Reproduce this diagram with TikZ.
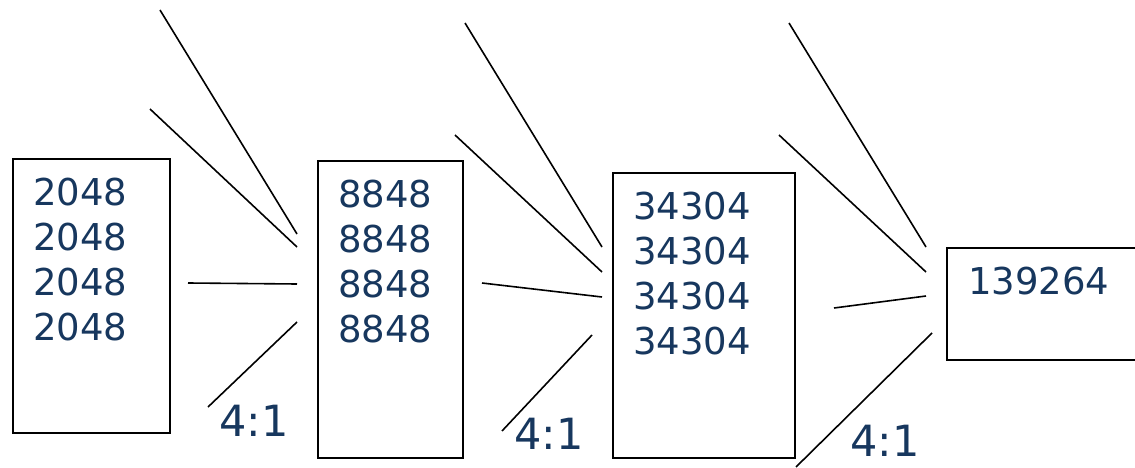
\documentclass[tikz,border=0pt]{standalone}
\usepackage{fontspec}
\setmainfont{DejaVu Sans}
\definecolor{navy}{HTML}{17375E}
\begin{document}
\begin{tikzpicture}[x=1pt,y=-1pt,
  box/.style={draw=black,line width=2pt,fill=white,inner sep=0pt,anchor=north west},
  nums/.style={text=navy,font=\fontsize{37}{45}\selectfont,align=left,anchor=north west,inner sep=0pt},
  ratio/.style={text=navy,font=\fontsize{43}{50}\selectfont,anchor=north west,inner sep=0pt},
  wire/.style={draw=black,line width=1.6pt}]
\useasboundingbox[fill=white] (0,0) rectangle (1135,468);
% boxes
\node[box,minimum width=157pt,minimum height=274pt] (b1) at (12,158) {};
\node[box,minimum width=145pt,minimum height=297pt] (b2) at (317,160) {};
\node[box,minimum width=182pt,minimum height=285pt] (b3) at (612,172) {};
\node[box,minimum width=190pt,minimum height=112pt] (b4) at (946,247) {};
% texts
\node[nums] (t1) at (33,178) {2048\\2048\\2048\\2048};
\node[nums] (t2) at (338,180) {8848\\8848\\8848\\8848};
\node[nums] (t3) at (633,192) {34304\\34304\\34304\\34304};
\node[nums] (t4) at (968,267) {139264};
\node[ratio] (r1) at (219,405) {4:1};
\node[ratio] (r2) at (514,418) {4:1};
\node[ratio] (r3) at (850,425) {4:1};
% wires into box 2
\coordinate (a1s) at (160,10);  \coordinate (a1e) at (297,234);
\coordinate (b1s) at (150,109); \coordinate (b1e) at (297,247);
\coordinate (c1s) at (188,283); \coordinate (c1e) at (297,284);
\coordinate (d1s) at (208,407); \coordinate (d1e) at (297,322);
% wires into box 3
\coordinate (a2s) at (465,23);  \coordinate (a2e) at (602,247);
\coordinate (b2s) at (455,135); \coordinate (b2e) at (602,272);
\coordinate (c2s) at (482,283); \coordinate (c2e) at (602,297);
\coordinate (d2s) at (502,431); \coordinate (d2e) at (592,335);
% wires into box 4
\coordinate (a3s) at (789,23);  \coordinate (a3e) at (926,247);
\coordinate (b3s) at (779,135); \coordinate (b3e) at (926,272);
\coordinate (c3s) at (834,308); \coordinate (c3e) at (926,296);
\coordinate (d3s) at (796,467); \coordinate (d3e) at (932,333);
\foreach \i in {1,2,3}{
  \draw[wire] (a\i s) -- (a\i e);
  \draw[wire] (b\i s) -- (b\i e);
  \draw[wire] (c\i s) -- (c\i e);
  \draw[wire] (d\i s) -- (d\i e);
}
\end{tikzpicture}
\end{document}
